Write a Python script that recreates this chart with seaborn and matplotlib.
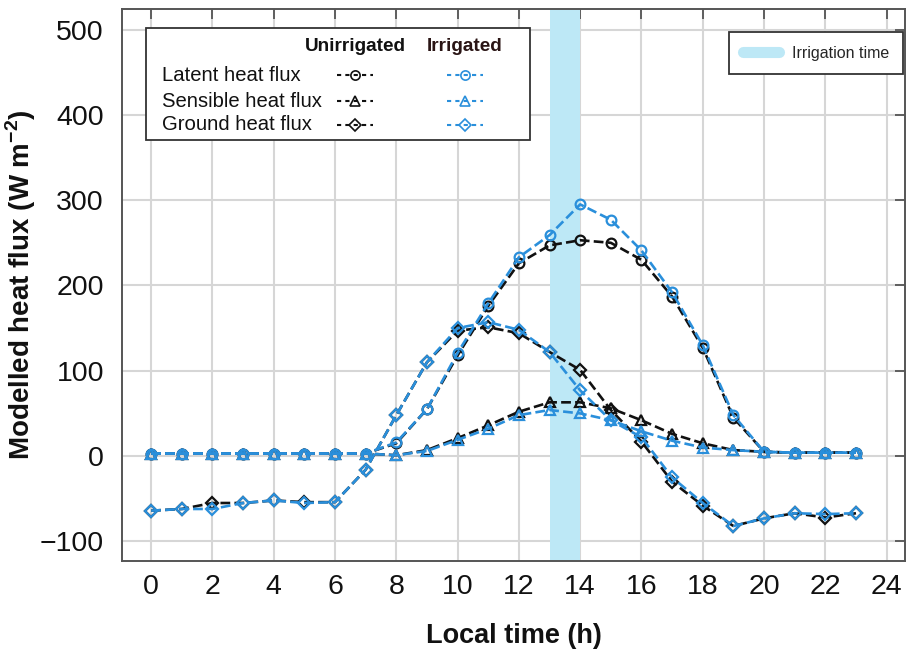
import matplotlib
matplotlib.use("Agg")
import numpy as np
import pandas as pd
import seaborn as sns
import matplotlib.pyplot as plt
from matplotlib.lines import Line2D
from matplotlib.patches import Rectangle

# ---------------- data ----------------
hours = list(range(24))
latent_unirr = [3, 3, 3, 3, 3, 3, 3, 3, 15, 55, 118, 176, 226, 247, 253, 250, 230, 187, 127, 45, 5, 4, 4, 4]
latent_irr   = [3, 3, 3, 3, 3, 3, 3, 3, 16, 55, 121, 179, 233, 259, 295, 277, 241, 192, 130, 48, 5, 4, 4, 4]
sens_unirr   = [3, 3, 3, 3, 3, 3, 3, 3, 1, 7, 21, 36, 52, 63, 63, 56, 42, 26, 15, 7, 5, 4, 4, 4]
sens_irr     = [3, 3, 3, 3, 3, 3, 3, 3, 1, 6, 19, 32, 48, 54, 50, 42, 29, 18, 10, 7, 5, 4, 4, 4]
ground_unirr = [-64, -62, -55, -55, -52, -54, -54, -16, 48, 110, 147, 151, 144, 122, 101, 54, 17, -30, -58, -82, -73, -67, -72, -67]
ground_irr   = [-64, -62, -62, -55, -52, -55, -54, -16, 48, 110, 150, 157, 148, 122, 77, 42, 22, -25, -55, -82, -73, -67, -68, -67]

flux_names = ["Latent heat flux", "Sensible heat flux", "Ground heat flux"]
case_names = ["Unirrigated", "Irrigated"]
irrigation_start, irrigation_end = 13, 14
x_ticks = list(range(0, 25, 2))
y_ticks = [-100, 0, 100, 200, 300, 400, 500]

series = {
    ("Latent heat flux", "Unirrigated"): latent_unirr,
    ("Latent heat flux", "Irrigated"): latent_irr,
    ("Sensible heat flux", "Unirrigated"): sens_unirr,
    ("Sensible heat flux", "Irrigated"): sens_irr,
    ("Ground heat flux", "Unirrigated"): ground_unirr,
    ("Ground heat flux", "Irrigated"): ground_irr,
}
rows = []
for (flux, case), vals in series.items():
    for h, v in zip(hours, vals):
        rows.append({"hour": h, "flux_value": v, "flux": flux, "case": case})
df = pd.DataFrame(rows)

# ---------------- style ----------------
sns.set_theme(style="white")
plt.rcParams["font.family"] = ["Liberation Sans", "DejaVu Sans"]
plt.rcParams["mathtext.fontset"] = "custom"
plt.rcParams["mathtext.rm"] = "Liberation Sans"
plt.rcParams["mathtext.bf"] = "Liberation Sans:bold"

colors = {"Unirrigated": "#111111", "Irrigated": "#2a8fdb"}
markers = {"Latent heat flux": "o", "Sensible heat flux": "^", "Ground heat flux": "D"}
msizes = {"Latent heat flux": 7, "Sensible heat flux": 7.5, "Ground heat flux": 6.5}
band_color = "#bde8f6"

fig = plt.figure(figsize=(9.06, 6.5), dpi=100)
ax = fig.add_axes([0.1347, 0.1369, 0.8642, 0.8492])

ax.grid(True, color="#d6d6d6", lw=1.5, zorder=0)
ax.set_axisbelow(True)
ax.axvspan(irrigation_start, irrigation_end, color=band_color, lw=0, zorder=1)

for case in case_names:
    for flux in flux_names:
        sub = df[(df["flux"] == flux) & (df["case"] == case)]
        sns.lineplot(data=sub, x="hour", y="flux_value", ax=ax,
                     color=colors[case], linestyle="--", dashes=(2.5, 1.9),
                     lw=1.9, marker=markers[flux], markersize=msizes[flux],
                     markerfacecolor="none", markeredgecolor=colors[case],
                     markeredgewidth=1.6, zorder=3 if case == "Unirrigated" else 4)

ax.set_xlim(-0.95, 24.6)
ax.set_ylim(-123, 524)
ax.set_xticks(x_ticks)
ax.set_yticks(y_ticks)
ax.set_yticklabels([f"\u2212{abs(v)}" if v < 0 else str(v) for v in y_ticks])

for s in ax.spines.values():
    s.set_visible(True)
    s.set_color("#555555")
    s.set_linewidth(1.4)

ax.tick_params(axis="both", direction="in", length=7, width=1.3, color="#555555",
               top=True, right=True, labelsize=20.5, labelcolor="#111111")
ax.tick_params(axis="x", pad=9)
ax.tick_params(axis="y", pad=13)

ax.set_xlabel("Local time (h)", fontsize=19.5, fontweight="bold", labelpad=17, color="#111111")
ax.set_ylabel(r"Modelled heat flux (W m$^{\mathbf{-2}}$)", fontsize=20,
              fontweight="bold", labelpad=1, color="#111111")

# ---------------- custom legend (flux types x cases) ----------------
ax.add_patch(Rectangle((0.0307, 0.7627), 0.4903, 0.2029, transform=ax.transAxes,
                       facecolor="white", edgecolor="#333333", lw=1.3, zorder=6))
row_y = [0.880, 0.833, 0.790]
col_x = {"Unirrigated": 0.2976, "Irrigated": 0.438}
ax.text(col_x["Unirrigated"], 0.933, "Unirrigated", transform=ax.transAxes,
        ha="center", va="center", fontsize=13.7, fontweight="bold", color="#111111", zorder=7)
ax.text(col_x["Irrigated"], 0.933, "Irrigated", transform=ax.transAxes,
        ha="center", va="center", fontsize=13.7, fontweight="bold", color="#2a1515", zorder=7)
for flux, yy in zip(flux_names, row_y):
    ax.text(0.051, yy, flux, transform=ax.transAxes, ha="left", va="center",
            fontsize=14.6, color="#111111", zorder=7)
    for case in case_names:
        xc = col_x[case]
        ln = Line2D([xc - 0.023, xc, xc + 0.023], [yy, yy, yy], transform=ax.transAxes,
                    color=colors[case], ls="--", dashes=(2.0, 2.0), lw=1.5,
                    marker=markers[flux], markersize=msizes[flux] * 0.95, markevery=[1],
                    markerfacecolor="none", markeredgecolor=colors[case],
                    markeredgewidth=1.2, zorder=7)
        ax.add_line(ln)

# ---------------- irrigation legend ----------------
leg = ax.legend(handles=[Line2D([], [], color=band_color, lw=8, solid_capstyle="round")],
                labels=["Irrigation time"], loc="upper right",
                bbox_to_anchor=(0.9974, 0.9583), borderaxespad=0.0, frameon=True,
                fancybox=False, framealpha=1, edgecolor="#333333", fontsize=11.5,
                handlelength=2.3, handletextpad=0.8, borderpad=0.85)
leg.get_frame().set_linewidth(1.3)
leg.set_zorder(8)

fig.savefig("out.png", dpi=100)
